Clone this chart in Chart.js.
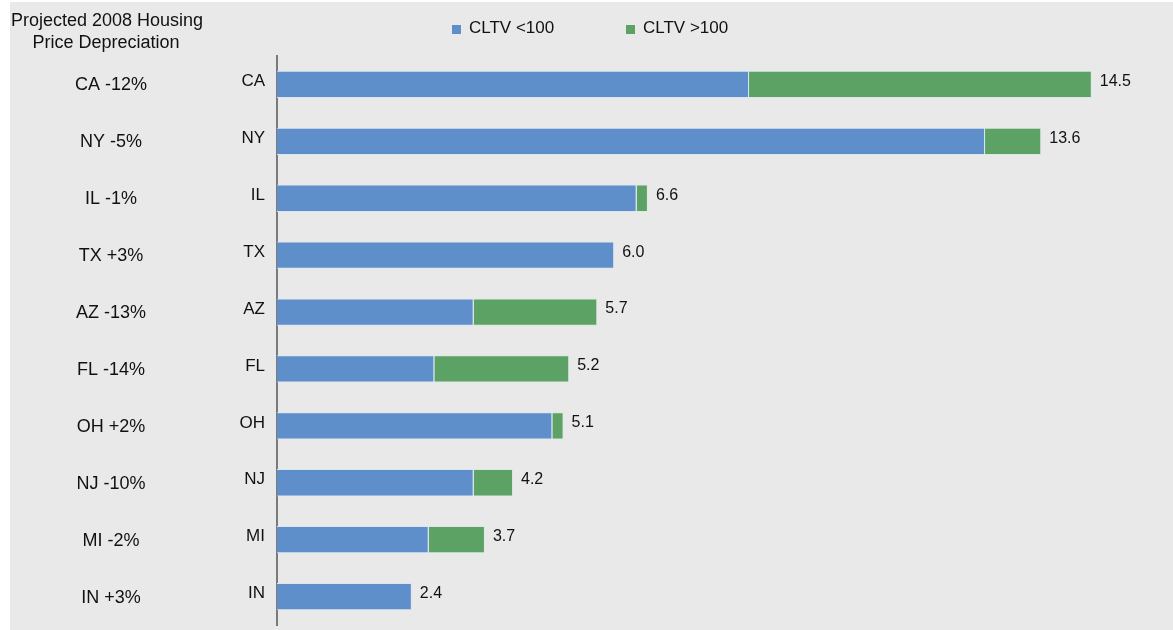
<!DOCTYPE html>
<html>
<head>
<meta charset="utf-8">
<script src="https://cdn.jsdelivr.net/npm/chart.js@4/dist/chart.umd.min.js"></script>
<style>
  body { margin: 0; background: #fff; }
  #wrap { position: relative; width: 1173px; height: 630px; }
</style>
</head>
<body>
<div id="wrap"><canvas id="chart" width="1173" height="630"></canvas></div>
<script>
// states, sorted by total exposure
const states = ["CA", "NY", "IL", "TX", "AZ", "FL", "OH", "NJ", "MI", "IN"];
// projected 2008 price change, shown in the left column
const depreciation = ["-12%", "-5%", "-1%", "+3%", "-13%", "-14%", "+2%", "-10%", "-2%", "+3%"];
const cltvUnder100 = [8.4, 12.6, 6.4, 6.0, 3.5, 2.8, 4.9, 3.5, 2.7, 2.4];
const cltvOver100 = [6.1, 1.0, 0.2, 0.0, 2.2, 2.4, 0.2, 0.7, 1.0, 0.0];
const totals = ["14.5", "13.6", "6.6", "6.0", "5.7", "5.2", "5.1", "4.2", "3.7", "2.4"];
const seriesNames = ["CLTV <100", "CLTV >100"];

const FONT = "'Liberation Sans', Arial, sans-serif";

const backdrop = {
  id: "backdrop",
  beforeDraw(chart) {
    const ctx = chart.ctx;
    ctx.save();
    ctx.fillStyle = "#fff";
    ctx.fillRect(0, 0, chart.width, chart.height);
    ctx.fillStyle = "#e9e9e9";
    ctx.fillRect(10, 2, chart.width - 10, chart.height - 2);
    ctx.restore();
  }
};

const annotations = {
  id: "annotations",
  afterDraw(chart) {
    const ctx = chart.ctx;
    const y = chart.scales.y;
    const x = chart.scales.x;
    ctx.save();
    ctx.fillStyle = "#111";

    // left column heading
    ctx.font = "18px " + FONT;
    ctx.textAlign = "center";
    ctx.textBaseline = "alphabetic";
    ctx.fillText("Projected 2008 Housing", 107, 26);
    ctx.fillText("Price Depreciation", 106, 48);

    // left column labels
    ctx.textBaseline = "middle";
    states.forEach((s, i) => {
      ctx.fillText(s + " " + depreciation[i], 111, y.getPixelForValue(i) + 1);
    });

    // totals at the end of each bar
    ctx.font = "16px " + FONT;
    ctx.textAlign = "left";
    states.forEach((s, i) => {
      const end = x.getPixelForValue(parseFloat(totals[i]));
      ctx.fillText(totals[i], end + 8, y.getPixelForValue(i) - 3);
    });

    // legend
    const items = [
      { x: 452, color: chart.data.datasets[0].backgroundColor },
      { x: 626, color: chart.data.datasets[1].backgroundColor }
    ];
    ctx.font = "17px " + FONT;
    items.forEach((it, i) => {
      ctx.fillStyle = it.color;
      ctx.fillRect(it.x, 25, 9, 9);
      ctx.fillStyle = "#111";
      ctx.fillText(seriesNames[i], it.x + 17, 28);
    });
    ctx.restore();
  }
};

new Chart(document.getElementById("chart"), {
  type: "bar",
  data: {
    labels: states,
    datasets: [
      {
        label: seriesNames[0],
        data: cltvUnder100,
        backgroundColor: "#5f8fcb",
        borderColor: "#dce6f2",
        borderWidth: 1
      },
      {
        label: seriesNames[1],
        data: cltvOver100,
        backgroundColor: "#5ba264",
        borderColor: "#dce9de",
        borderWidth: 1
      }
    ]
  },
  options: {
    indexAxis: "y",
    responsive: false,
    animation: false,
    categoryPercentage: 1,
    barPercentage: 0.48,
    layout: { padding: { top: 56, bottom: 5, left: 0, right: 25 } },
    plugins: {
      legend: { display: false },
      tooltip: { enabled: false }
    },
    scales: {
      x: {
        stacked: true,
        min: 0,
        max: 15.5,
        display: false
      },
      y: {
        stacked: true,
        grid: { display: false, drawTicks: false },
        border: { display: true, color: "#7a7a7a", width: 2 },
        ticks: {
          color: "#111",
          padding: 12,
          labelOffset: -3,
          font: { family: FONT, size: 17 }
        },
        afterFit(scale) {
          scale.width = 277;
          scale.paddingTop = 0;
          scale.paddingBottom = 0;
        }
      }
    }
  },
  plugins: [backdrop, annotations]
});
</script>
</body>
</html>
